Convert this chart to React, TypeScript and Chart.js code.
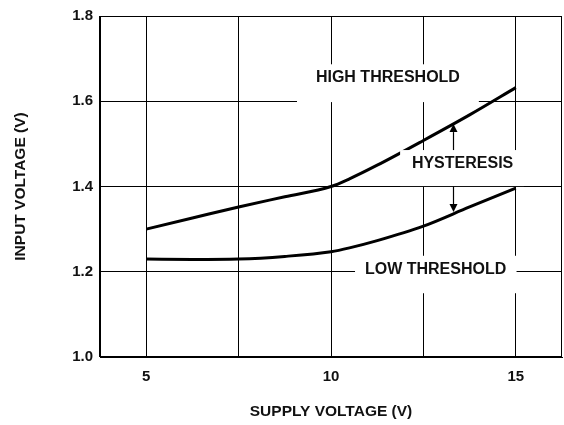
import React, { useEffect, useRef } from 'react';
import { Chart, registerables } from 'chart.js';

Chart.register(...registerables);

// ---- data ----
const supplyVoltage = [5, 6.25, 7.5, 8.75, 10, 10.5, 11.25, 12.5, 13.75, 15];
const highThreshold = [1.3, 1.326, 1.352, 1.376, 1.4, 1.418, 1.45, 1.508, 1.568, 1.632];
const lowThreshold = [1.23, 1.229, 1.23, 1.236, 1.247, 1.256, 1.273, 1.307, 1.352, 1.396];
const xGridValues = [5, 7.5, 10, 12.5, 15];
const xTickLabels = [5, 10, 15];
const yTickValues = [1.0, 1.2, 1.4, 1.6, 1.8];
const xAxisTitle = 'SUPPLY VOLTAGE (V)';
const yAxisTitle = 'INPUT VOLTAGE (V)';

// annotation labels (data units)
const labelTexts = ['HIGH THRESHOLD', 'HYSTERESIS', 'LOW THRESHOLD'];
const labelCenterX = [11.54, 13.56, 12.83];
const labelCenterY = [1.656, 1.4543, 1.2051];
const labelBoxX = [[9.08, 14.0], [11.87, 15.22], [10.65, 15.02]];
const labelBoxY = [[1.6867, 1.598], [1.4855, 1.401], [1.2375, 1.1496]];
// hysteresis arrows: x, shaft start, tip
const arrowX = [13.31, 13.31];
const arrowFrom = [1.4855, 1.4];
const arrowTo = [1.5464, 1.3399];

const FONT = '"Liberation Sans", Arial, Helvetica, sans-serif';
const INK = '#111';

const annotationPlugin = {
  id: 'annotations',
  afterDatasetsDraw(chart: any) {
    const { ctx, chartArea, scales } = chart;
    const xs = scales.x;
    const ys = scales.y;
    ctx.save();
    // frame
    ctx.strokeStyle = '#000';
    ctx.lineWidth = 1;
    const l = Math.round(chartArea.left) - 0.5;
    const t = Math.round(chartArea.top) + 0.5;
    const r = Math.round(chartArea.right) - 0.5;
    const b = Math.round(chartArea.bottom) - 0.5;
    ctx.strokeRect(l, t, r - l, b - t);

    // white label boxes
    ctx.fillStyle = '#fff';
    labelTexts.forEach((_, i) => {
      const x0 = xs.getPixelForValue(labelBoxX[i][0]);
      const x1 = xs.getPixelForValue(labelBoxX[i][1]);
      const y0 = ys.getPixelForValue(labelBoxY[i][0]);
      const y1 = ys.getPixelForValue(labelBoxY[i][1]);
      ctx.fillRect(x0, y0, x1 - x0, y1 - y0);
    });

    // texts
    ctx.fillStyle = INK;
    ctx.font = `bold 16px ${FONT}`;
    ctx.textAlign = 'center';
    ctx.textBaseline = 'middle';
    labelTexts.forEach((txt, i) => {
      ctx.fillText(txt, xs.getPixelForValue(labelCenterX[i]), ys.getPixelForValue(labelCenterY[i]));
    });

    // arrows
    ctx.strokeStyle = '#000';
    ctx.fillStyle = '#000';
    ctx.lineWidth = 1.2;
    arrowX.forEach((ax, i) => {
      const px = Math.round(xs.getPixelForValue(ax)) + 0.5;
      const pFrom = ys.getPixelForValue(arrowFrom[i]);
      const pTo = ys.getPixelForValue(arrowTo[i]);
      const dir = pTo < pFrom ? -1 : 1;
      const head = 8;
      ctx.beginPath();
      ctx.moveTo(px, pFrom);
      ctx.lineTo(px, pTo - dir * head);
      ctx.stroke();
      ctx.beginPath();
      ctx.moveTo(px, pTo);
      ctx.lineTo(px - 4, pTo - dir * head);
      ctx.lineTo(px + 4, pTo - dir * head);
      ctx.closePath();
      ctx.fill();
    });
    ctx.restore();
  },
};

export default function App() {
  const canvasRef = useRef<HTMLCanvasElement | null>(null);

  useEffect(() => {
    document.body.style.margin = '0';
    const canvas = canvasRef.current;
    if (!canvas) return;
    const chart = new Chart(canvas, {
      type: 'line',
      data: {
        datasets: [
          {
            label: 'High threshold',
            data: supplyVoltage.map((v, i) => ({ x: v, y: highThreshold[i] })),
            borderColor: '#000',
            borderWidth: 3,
            pointRadius: 0,
            cubicInterpolationMode: 'monotone',
            fill: false,
          },
          {
            label: 'Low threshold',
            data: supplyVoltage.map((v, i) => ({ x: v, y: lowThreshold[i] })),
            borderColor: '#000',
            borderWidth: 3,
            pointRadius: 0,
            cubicInterpolationMode: 'monotone',
            fill: false,
          },
        ],
      },
      options: {
        responsive: false,
        animation: false,
        layout: { padding: { left: 0, right: 2, top: 11, bottom: 0 } },
        plugins: {
          legend: { display: false },
          tooltip: { enabled: false },
        },
        scales: {
          x: {
            type: 'linear',
            min: 3.75,
            max: 16.25,
            afterBuildTicks: (scale: any) => {
              scale.ticks = xGridValues.map((v) => ({ value: v }));
            },
            afterFit: (scale: any) => {
              scale.height = 68;
            },
            ticks: {
              color: INK,
              font: { family: FONT, size: 15, weight: 'bold' },
              padding: 11,
              maxRotation: 0,
              autoSkip: false,
              callback: (v: any) => (xTickLabels.includes(Number(v)) ? String(v) : ''),
            },
            grid: { color: '#000', lineWidth: 1, drawTicks: false },
            border: { color: '#000', width: 1 },
            title: {
              display: true,
              text: xAxisTitle,
              color: INK,
              font: { family: FONT, size: 15.5, weight: 'bold' },
              padding: { top: 0, bottom: 4 },
            },
          },
          y: {
            type: 'linear',
            min: 1.0,
            max: 1.8,
            afterBuildTicks: (scale: any) => {
              scale.ticks = yTickValues.map((v) => ({ value: v }));
            },
            afterFit: (scale: any) => {
              scale.width = 100;
            },
            ticks: {
              color: INK,
              font: { family: FONT, size: 15, weight: 'bold' },
              padding: 7,
              callback: (v: any) => Number(v).toFixed(1),
            },
            grid: { color: '#000', lineWidth: 1, drawTicks: false },
            border: { color: '#000', width: 1 },
            title: {
              display: true,
              text: yAxisTitle,
              color: INK,
              font: { family: FONT, size: 15.5, weight: 'bold' },
              padding: { top: 11, bottom: 0 },
            },
          },
        },
      },
      plugins: [annotationPlugin],
    });
    return () => chart.destroy();
  }, []);

  return (
    <div style={{ width: 564, height: 425, background: '#fff' }}>
      <canvas ref={canvasRef} width={564} height={425} />
    </div>
  );
}
